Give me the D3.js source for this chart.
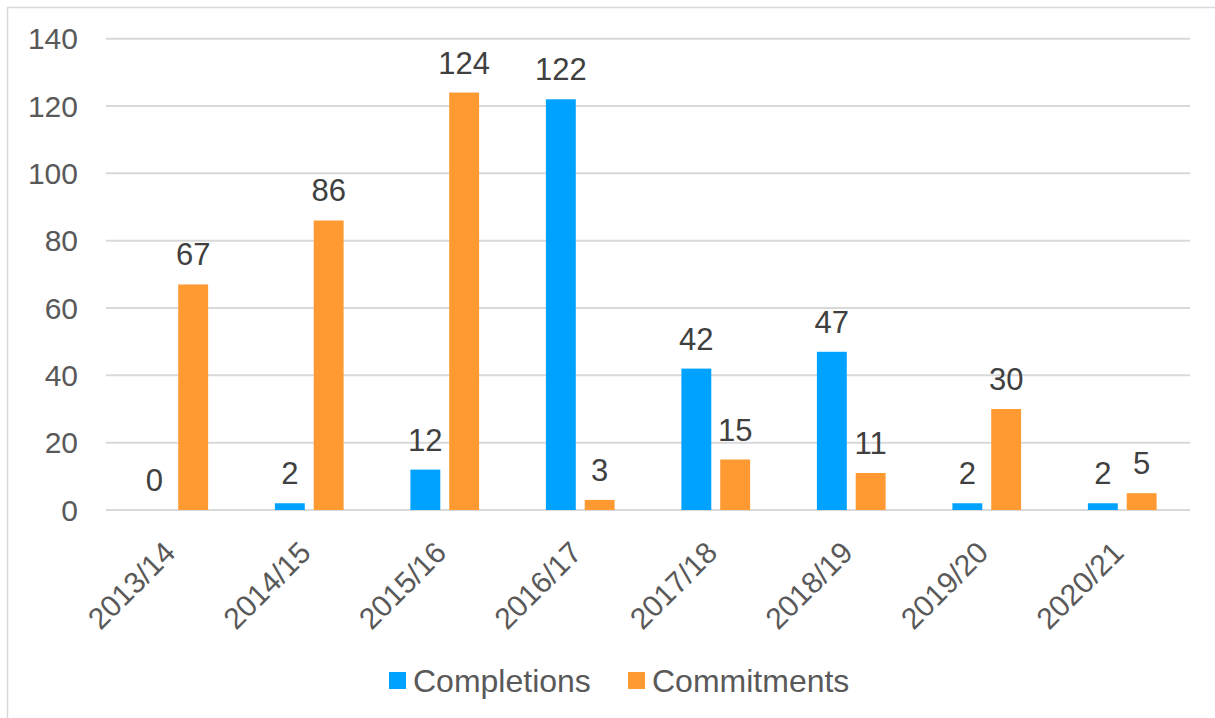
<!DOCTYPE html>
<html>
<head>
<meta charset="utf-8">
<script src="https://cdn.jsdelivr.net/npm/d3@7"></script>
<style>
  body { margin: 0; background: #fff; }
  svg { display: block; font-family: "Liberation Sans", Arial, sans-serif; }
</style>
</head>
<body>
<svg id="chart" width="1215" height="718"></svg>
<script>
// data
var years = ["2013/14", "2014/15", "2015/16", "2016/17", "2017/18", "2018/19", "2019/20", "2020/21"];
var completions = [0, 2, 12, 122, 42, 47, 2, 2];
var commitments = [67, 86, 124, 3, 15, 11, 30, 5];
var seriesNames = ["Completions", "Commitments"];
var yTicks = [0, 20, 40, 60, 80, 100, 120, 140];

var colors = ["#00A2FF", "#FF9A33"];
var svg = d3.select("#chart");

// outer frame
svg.append("rect")
    .attr("x", 7.5).attr("y", 7.5)
    .attr("width", 1230).attr("height", 730)
    .attr("fill", "none")
    .attr("stroke", "#d9d9d9")
    .attr("stroke-width", 1.5);

var plotLeft = 106, plotRight = 1190, plotTop = 38.7, plotBottom = 510;

var x0 = d3.scaleBand().domain(years).range([plotLeft, plotRight]).padding(0);
var x1 = d3.scaleBand().domain(seriesNames).range([0, x0.bandwidth()])
    .paddingInner(0.23).paddingOuter(0.86);
var y = d3.scaleLinear().domain([0, 140]).range([plotBottom, plotTop]);

// gridlines
svg.append("g").selectAll("line")
    .data(yTicks)
    .enter()
    .append("line")
    .attr("x1", plotLeft).attr("x2", plotRight)
    .attr("y1", function(d) { return y(d); })
    .attr("y2", function(d) { return y(d); })
    .attr("stroke", "#d9d9d9")
    .attr("stroke-width", 2);

// y tick labels
svg.append("g").selectAll("text")
    .data(yTicks)
    .enter()
    .append("text")
    .attr("x", 78)
    .attr("y", function(d) { return y(d); })
    .attr("dy", "0.35em")
    .attr("text-anchor", "end")
    .attr("font-size", 30)
    .attr("fill", "#595959")
    .text(function(d) { return d; });

// bars + labels
var rows = years.map(function(yr, i) {
    return { year: yr, vals: [completions[i], commitments[i]] };
});

var groups = svg.append("g").selectAll("g")
    .data(rows)
    .enter()
    .append("g")
    .attr("transform", function(d) { return "translate(" + x0(d.year) + ",0)"; });

groups.selectAll("rect")
    .data(function(d) { return d.vals.map(function(v, k) { return { k: k, v: v }; }); })
    .enter()
    .append("rect")
    .attr("x", function(d) { return x1(seriesNames[d.k]); })
    .attr("y", function(d) { return y(d.v); })
    .attr("width", x1.bandwidth())
    .attr("height", function(d) { return plotBottom - y(d.v); })
    .attr("fill", function(d) { return colors[d.k]; });

groups.selectAll("text")
    .data(function(d) { return d.vals.map(function(v, k) { return { k: k, v: v }; }); })
    .enter()
    .append("text")
    .attr("x", function(d) { return x1(seriesNames[d.k]) + x1.bandwidth() / 2; })
    .attr("y", function(d) { return y(d.v) - 19; })
    .attr("text-anchor", "middle")
    .attr("font-size", 31)
    .attr("fill", "#404040")
    .text(function(d) { return d.v; });

// x labels, rotated
svg.append("g").selectAll("text")
    .data(years)
    .enter()
    .append("text")
    .attr("transform", function(d) {
        var cx = x0(d) + x0.bandwidth() / 2 - 4;
        return "translate(" + cx + "," + 547 + ") rotate(-45)";
    })
    .attr("text-anchor", "end")
    .attr("dy", "0.35em")
    .attr("font-size", 30)
    .attr("fill", "#595959")
    .text(function(d) { return d; });

// legend
var legendX = [389, 628];
var legend = svg.append("g").selectAll("g")
    .data(seriesNames)
    .enter()
    .append("g")
    .attr("transform", function(d, i) { return "translate(" + legendX[i] + ",672)"; });

legend.append("rect")
    .attr("width", 17).attr("height", 17)
    .attr("fill", function(d, i) { return colors[i]; });

legend.append("text")
    .attr("x", 24)
    .attr("y", 8.5)
    .attr("dy", "0.35em")
    .attr("font-size", 32)
    .attr("fill", "#595959")
    .text(function(d) { return d; });
</script>
</body>
</html>
